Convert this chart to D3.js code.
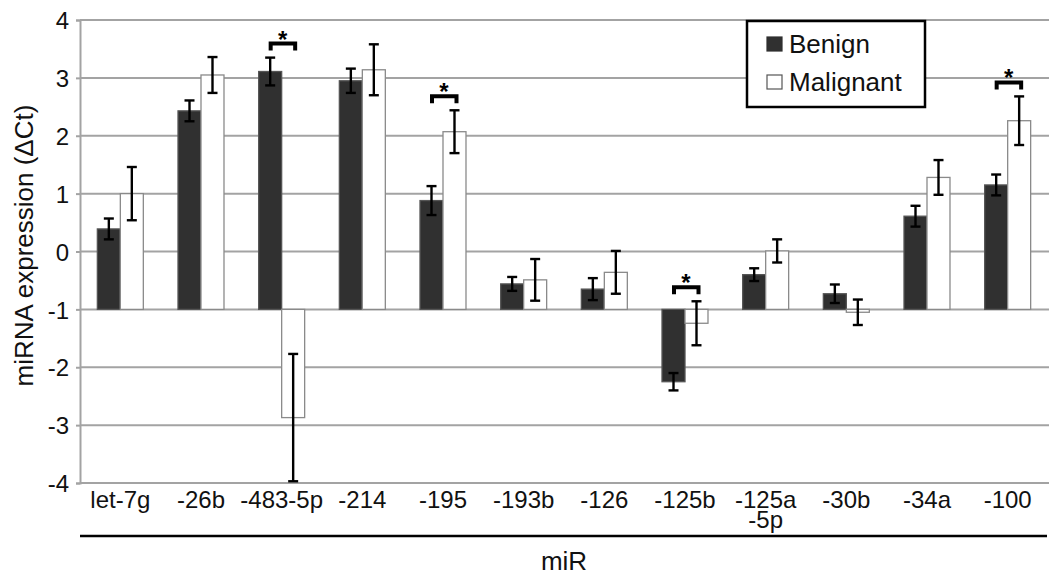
<!DOCTYPE html>
<html>
<head>
<meta charset="utf-8">
<script src="https://cdn.jsdelivr.net/npm/d3@7"></script>
<style>
  html, body { margin: 0; padding: 0; background: #fff; }
  svg { display: block; font-family: "Liberation Sans", Arial, sans-serif; }
</style>
</head>
<body>
<svg id="chart" width="1050" height="579"></svg>
<script>
const categories = ["let-7g", "-26b", "-483-5p", "-214", "-195", "-193b", "-126", "-125b", "-125a\n-5p", "-30b", "-34a", "-100"];
const benign = [0.39, 2.43, 3.11, 2.95, 0.88, -0.56, -0.65, -2.25, -0.40, -0.73, 0.61, 1.15];
const benignErr = [0.18, 0.18, 0.24, 0.21, 0.25, 0.12, 0.19, 0.15, 0.11, 0.16, 0.18, 0.18];
const malignant = [1.00, 3.05, -2.87, 3.14, 2.07, -0.49, -0.36, -1.24, 0.01, -1.05, 1.28, 2.26];
const malignantErr = [0.46, 0.31, 1.10, 0.44, 0.37, 0.36, 0.37, 0.38, 0.20, 0.22, 0.30, 0.42];
const significant = ["-483-5p", "-195", "-125b", "-100"];
const yTicks = [-4, -3, -2, -1, 0, 1, 2, 3, 4];
const seriesNames = ["Benign", "Malignant"];
const baseValue = -1;

(function () {
const svg = d3.select("#chart");
const pLeft = 80, pRight = 1048, pTop = 20, pBottom = 483;

const x = d3.scaleBand().domain(categories).range([pLeft, pRight]).paddingInner(0.43).paddingOuter(0.215);
const xs = d3.scaleBand().domain(seriesNames).range([0, x.bandwidth()]);
const y = d3.scaleLinear().domain([-4, 4]).range([pBottom, pTop]).clamp(true);

// gridlines
svg.append("g").selectAll("line").data(yTicks).join("line")
  .attr("x1", pLeft).attr("x2", pRight + 1)
  .attr("y1", d => y(d)).attr("y2", d => y(d))
  .attr("stroke", "#a3a3a3").attr("stroke-width", 2);

// y axis
const yAxis = svg.append("g").attr("transform", `translate(${pLeft},0)`)
  .call(d3.axisLeft(y).tickValues(yTicks).tickSize(4).tickPadding(7).tickFormat(d => String(d)));
yAxis.select(".domain").attr("stroke", "#a3a3a3").attr("stroke-width", 2);
yAxis.selectAll(".tick line").attr("stroke", "#a3a3a3").attr("stroke-width", 2);
yAxis.selectAll(".tick text").attr("font-size", 24).attr("fill", "#111")
  .attr("font-family", "Liberation Sans, Arial, sans-serif").attr("dy", "0.36em");

// bars
const rows = categories.map((c, i) => ({
  c, items: [
    { s: "Benign", v: benign[i], e: benignErr[i] },
    { s: "Malignant", v: malignant[i], e: malignantErr[i] }
  ]
}));

const groups = svg.append("g").selectAll("g").data(rows).join("g")
  .attr("transform", d => `translate(${x(d.c)},0)`);

groups.selectAll("rect").data(d => d.items).join("rect")
  .attr("x", d => xs(d.s))
  .attr("width", xs.bandwidth())
  .attr("y", d => Math.min(y(d.v), y(baseValue)))
  .attr("height", d => Math.abs(y(d.v) - y(baseValue)))
  .attr("fill", d => d.s === "Benign" ? "#303030" : "#ffffff")
  .attr("stroke", d => d.s === "Benign" ? "#555" : "#8a8a8a")
  .attr("stroke-width", 1.3);

// error bars
const cap = 5;
const eb = groups.selectAll("g.err").data(d => d.items).join("g").attr("class", "err");
eb.append("line")
  .attr("x1", d => xs(d.s) + xs.bandwidth() / 2).attr("x2", d => xs(d.s) + xs.bandwidth() / 2)
  .attr("y1", d => y(d.v + d.e)).attr("y2", d => y(d.v - d.e));
eb.append("line")
  .attr("x1", d => xs(d.s) + xs.bandwidth() / 2 - cap).attr("x2", d => xs(d.s) + xs.bandwidth() / 2 + cap)
  .attr("y1", d => y(d.v + d.e)).attr("y2", d => y(d.v + d.e));
eb.append("line")
  .attr("x1", d => xs(d.s) + xs.bandwidth() / 2 - cap).attr("x2", d => xs(d.s) + xs.bandwidth() / 2 + cap)
  .attr("y1", d => y(d.v - d.e)).attr("y2", d => y(d.v - d.e));
eb.selectAll("line").attr("stroke", "#000").attr("stroke-width", 2.4);

// significance brackets
significant.forEach(c => {
  const i = categories.indexOf(c);
  const topVal = Math.max(benign[i] + benignErr[i], malignant[i] + malignantErr[i], baseValue);
  const yb = y(topVal) - 16;
  const cx = x(c) + x.bandwidth() / 2;
  const x0 = cx - 11, x1 = cx + 13.5;
  svg.append("path")
    .attr("d", `M${x0},${yb + 9} V${yb + 2} H${x1} V${yb + 9}`)
    .attr("fill", "none").attr("stroke", "#000").attr("stroke-width", 4)
    .attr("stroke-linejoin", "miter");
  svg.append("text").attr("x", cx + 1).attr("y", yb + 6)
    .attr("text-anchor", "middle").attr("font-size", 24).attr("font-weight", "bold").text("*");
});

// category labels
const lab = svg.append("g").selectAll("text").data(categories).join("text")
  .attr("x", d => x(d) + x.bandwidth() / 2)
  .attr("y", 508)
  .attr("text-anchor", "middle")
  .attr("font-size", 24).attr("fill", "#111");
lab.each(function(d) {
  const parts = d.split("\n");
  d3.select(this).selectAll("tspan").data(parts).join("tspan")
    .attr("x", x(d) + x.bandwidth() / 2)
    .attr("dy", (p, k) => k === 0 ? 0 : 20)
    .text(p => p);
});

// separator line
svg.append("line").attr("x1", pLeft).attr("x2", pRight - 1).attr("y1", 536).attr("y2", 536)
  .attr("stroke", "#000").attr("stroke-width", 2.5);

// axis titles
svg.append("text").attr("x", (pLeft + pRight) / 2).attr("y", 570)
  .attr("text-anchor", "middle").attr("font-size", 26).attr("fill", "#111").text("miR");
svg.append("text").attr("transform", `translate(33,${(pTop + pBottom) / 2 - 6}) rotate(-90)`)
  .attr("text-anchor", "middle").attr("font-size", 26).attr("fill", "#111").text("miRNA expression (ΔCt)");

// legend
const lg = svg.append("g");
lg.append("rect").attr("x", 747).attr("y", 21).attr("width", 178).attr("height", 86)
  .attr("fill", "#fff").attr("stroke", "#000").attr("stroke-width", 2.5);
seriesNames.forEach((s, k) => {
  const yy = 37 + k * 38;
  lg.append("rect").attr("x", 767).attr("y", yy).attr("width", 15).attr("height", 14)
    .attr("fill", s === "Benign" ? "#303030" : "#fff")
    .attr("stroke", s === "Benign" ? "#303030" : "#555").attr("stroke-width", 1.2);
  lg.append("text").attr("x", 789).attr("y", yy + 16).attr("font-size", 26).attr("fill", "#111").text(s);
});
})();
</script>
</body>
</html>
